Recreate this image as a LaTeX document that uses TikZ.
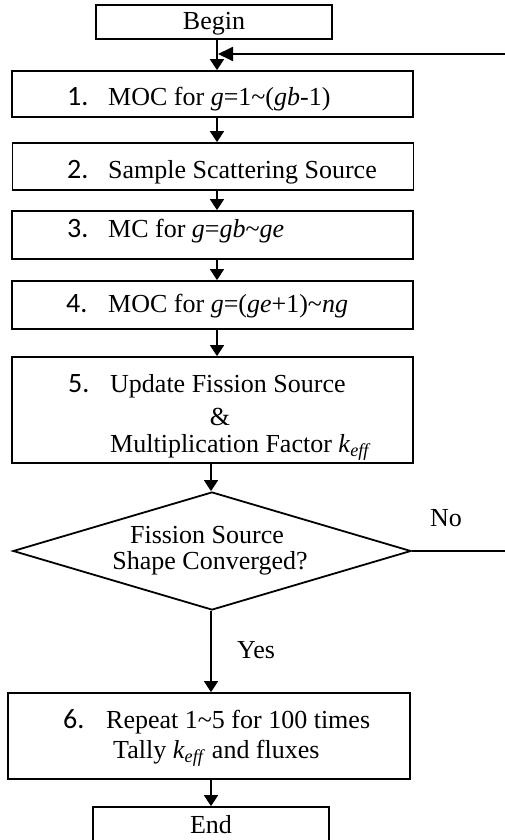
\documentclass[tikz,border=0pt]{standalone}
\usepackage{fontspec}
\setmainfont{Liberation Serif}
\newfontfamily\numfont{Carlito}
\usetikzlibrary{arrows.meta,shapes.geometric}
\begin{document}
\begin{tikzpicture}[x=1pt,y=-1pt,
  box/.style={draw, line width=1.8pt, rectangle, inner sep=0pt},
  dec/.style={draw, line width=1.8pt, diamond, inner sep=0pt, minimum width=398pt, minimum height=118pt},
  arr/.style={line width=1.8pt, -{Triangle[width=14pt,length=11pt]}},
  arrfb/.style={line width=1.8pt, -{Triangle[width=14pt,length=15pt]}},
  plain/.style={line width=1.5pt},
  txt/.style={font=\fontsize{26}{30}\selectfont, inner sep=0pt},
  num/.style={font=\numfont\fontsize{28}{32}\selectfont, inner sep=0pt}]
\useasboundingbox (0,0) rectangle (505,840);

% boxes
\node[box, minimum width=236pt, minimum height=34pt] (begin) at (214,22) {};
\node[box, minimum width=401pt, minimum height=46pt] (b1) at (212.5,94) {};
\node[box, minimum width=401pt, minimum height=47pt] (b2) at (213,166.5) {};
\node[box, minimum width=401pt, minimum height=48pt] (b3) at (212.5,235) {};
\node[box, minimum width=401pt, minimum height=48pt] (b4) at (212.5,305) {};
\node[box, minimum width=401pt, minimum height=106pt] (b5) at (212.5,410) {};
\node[dec] (dia) at (212,551) {};
\node[box, minimum width=402pt, minimum height=86pt] (b6) at (209,736) {};
\node[box, minimum width=236pt, minimum height=36pt] (end) at (211,825) {};

% texts
\node[txt, anchor=base] (tbegin) at (214,30) {Begin};
\node[num, anchor=base west] (n1) at (67,106) {1.};
\node[txt, anchor=base west] (t1) at (108,106) {MOC for \textit{g}=1\textasciitilde(\textit{gb}-1)};
\node[num, anchor=base west] (n2) at (67,178) {2.};
\node[txt, anchor=base west] (t2) at (108,178) {Sample Scattering Source};
\node[num, anchor=base west] (n3) at (67,237) {3.};
\node[txt, anchor=base west] (t3) at (108,237) {MC for \textit{g}=\textit{gb}\textasciitilde\textit{ge}};
\node[num, anchor=base west] (n4) at (66,312) {4.};
\node[txt, anchor=base west] (t4) at (108,312) {MOC for \textit{g}=(\textit{ge}+1)\textasciitilde\textit{ng}};
\node[num, anchor=base west] (n5) at (68,392) {5.};
\node[txt, anchor=base west] (t5a) at (110,392) {Update Fission Source};
\node[txt, anchor=base] (t5b) at (220,425) {\&};
\node[txt, anchor=base west] (t5c) at (110,452) {Multiplication Factor \textit{k}\textsubscript{\textit{eff}}};
\node[txt, anchor=base] (td1) at (207,543) {Fission Source};
\node[txt, anchor=base] (td2) at (210,569) {Shape Converged?};
\node[txt, anchor=base west] (tno) at (430,526) {No};
\node[txt, anchor=base west] (tyes) at (237,658) {Yes};
\node[num, anchor=base west] (n6) at (63,728) {6.};
\node[txt, anchor=base west] (t6a) at (106,728) {Repeat 1\textasciitilde5 for 100 times};
\node[txt, anchor=base west] (t6b) at (113,758) {Tally \textit{k}\textsubscript{\textit{eff}} and fluxes};
\node[txt, anchor=base] (tend) at (211,833) {End};

% connectors
\coordinate (xa) at (217,0);
\coordinate (xb) at (211,0);
\coordinate (fbr) at (505,54);
\draw[arr] (begin.south -| xa) -- (b1.north -| xa);
\draw[arr] (b1.south -| xa) -- (b2.north -| xa);
\draw[arr] (b2.south -| xa) -- (b3.north -| xa);
\draw[arr] (b3.south -| xa) -- (b4.north -| xa);
\draw[arr] (b4.south -| xa) -- (b5.north -| xa);
\draw[arr] (b5.south -| xb) -- (dia.north -| xb);
\draw[arr] (dia.south -| xb) -- (b6.north -| xb);
\draw[arr] (b6.south -| xb) -- (end.north -| xb);
\draw[arrfb] (fbr) -- ([xshift=1pt]xa |- fbr);
\draw[plain] (dia.east) -- (dia.east -| fbr);
\end{tikzpicture}
\end{document}
